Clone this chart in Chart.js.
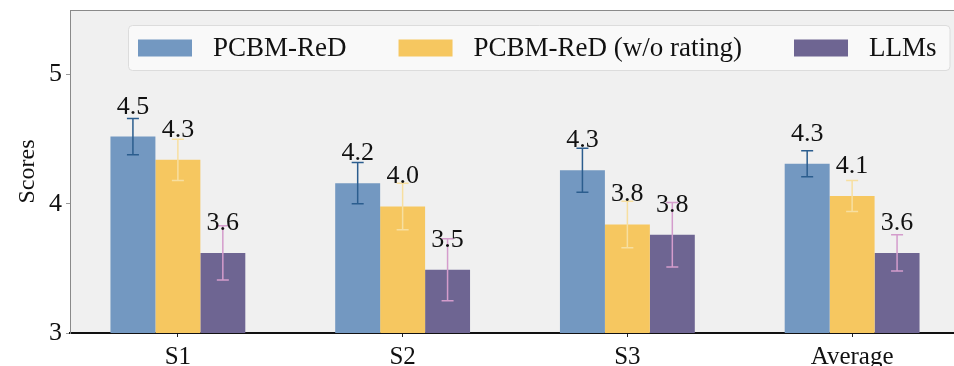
<!DOCTYPE html>
<html>
<head>
<meta charset="utf-8">
<script src="https://cdn.jsdelivr.net/npm/chart.js@4"></script>
<style>
  html, body { margin: 0; padding: 0; background: #fff; overflow: hidden; }
  #wrap { width: 962px; height: 366px; }
</style>
</head>
<body>
<div id="wrap"><canvas id="scoreChart" width="962" height="366"></canvas></div>
<script>
// Chart data
const categories = ['S1', 'S2', 'S3', 'Average'];
const seriesNames = ['PCBM-ReD', 'PCBM-ReD (w/o rating)', 'LLMs'];
const redValues = [4.52, 4.16, 4.26, 4.31];
const redErrors = [0.14, 0.16, 0.17, 0.10];
const noRatingValues = [4.34, 3.98, 3.84, 4.06];
const noRatingErrors = [0.16, 0.18, 0.18, 0.12];
const llmValues = [3.62, 3.49, 3.76, 3.62];
const llmErrors = [0.21, 0.24, 0.25, 0.14];
const yTicks = [3, 4, 5];

const barColors = ['#7398c1', '#f6c760', '#6e6592'];
const errColors = ['#2b5d8e', '#f7dfa0', '#d49ccc'];
const serif = "'Liberation Serif', 'Times New Roman', serif";

Chart.defaults.font.family = serif;
Chart.defaults.color = '#111';

const toPoints = vals => vals.map((v, i) => ({ x: i, y: v }));

// plot background + top spine
const frame = {
  id: 'frame',
  beforeDraw(chart) {
    const { ctx, chartArea: a } = chart;
    ctx.save();
    ctx.fillStyle = '#f0f0f0';
    ctx.fillRect(a.left, a.top, a.right - a.left, a.bottom - a.top);
    ctx.strokeStyle = '#8a8a8a';
    ctx.lineWidth = 1;
    ctx.beginPath();
    ctx.moveTo(a.left, a.top + 0.5);
    ctx.lineTo(a.right, a.top + 0.5);
    ctx.stroke();
    ctx.restore();
  }
};

// error bars and value labels
const barExtras = {
  id: 'barExtras',
  afterDatasetsDraw(chart) {
    const { ctx } = chart;
    const y = chart.scales.y;
    chart.data.datasets.forEach((ds, di) => {
      const meta = chart.getDatasetMeta(di);
      meta.data.forEach((bar, i) => {
        const v = ds.data[i].y, e = ds.errors[i];
        const top = y.getPixelForValue(v + e);
        const bot = y.getPixelForValue(v - e);
        ctx.save();
        ctx.strokeStyle = ds.errColor;
        ctx.lineWidth = 1.5;
        ctx.beginPath();
        ctx.moveTo(bar.x, top);
        ctx.lineTo(bar.x, bot);
        ctx.moveTo(bar.x - 6, top);
        ctx.lineTo(bar.x + 6, top);
        ctx.moveTo(bar.x - 6, bot);
        ctx.lineTo(bar.x + 6, bot);
        ctx.stroke();
        ctx.restore();
      });
    });
    chart.data.datasets.forEach((ds, di) => {
      const meta = chart.getDatasetMeta(di);
      meta.data.forEach((bar, i) => {
        const v = ds.data[i].y;
        ctx.save();
        ctx.font = '26px ' + serif;
        ctx.fillStyle = '#111';
        ctx.textAlign = 'center';
        ctx.textBaseline = 'alphabetic';
        ctx.fillText(v.toFixed(1), bar.x, y.getPixelForValue(v) - 23);
        ctx.restore();
      });
    });
  }
};

// legend box inside the plot
const insideLegend = {
  id: 'insideLegend',
  afterDraw(chart) {
    const { ctx } = chart;
    ctx.save();
    ctx.font = '27px ' + serif;
    const x0 = 128, y0 = 25, h = 45;
    const swW = 54, swH = 17, gapIn = 21, gapOut = 52, pad = 10;
    let w = pad;
    chart.data.datasets.forEach((ds, i) => {
      w += swW + gapIn + ctx.measureText(ds.label).width;
      if (i < chart.data.datasets.length - 1) w += gapOut;
    });
    w += pad + 3;
    ctx.fillStyle = 'rgba(250,250,250,0.9)';
    ctx.strokeStyle = '#dcdcdc';
    ctx.lineWidth = 1;
    ctx.beginPath();
    ctx.roundRect(x0 + 0.5, y0 + 0.5, w, h, 4);
    ctx.fill();
    ctx.stroke();
    let x = x0 + pad;
    const cy = y0 + h / 2;
    chart.data.datasets.forEach(ds => {
      ctx.fillStyle = ds.backgroundColor;
      ctx.fillRect(x, cy - swH / 2 + 0.5, swW, swH);
      x += swW + gapIn;
      ctx.fillStyle = '#111';
      ctx.textBaseline = 'middle';
      ctx.fillText(ds.label, x, cy + 1);
      x += ctx.measureText(ds.label).width + gapOut;
    });
    ctx.restore();
  }
};

const valueSets = [redValues, noRatingValues, llmValues];
const errorSets = [redErrors, noRatingErrors, llmErrors];

new Chart(document.getElementById('scoreChart').getContext('2d'), {
  type: 'bar',
  data: {
    datasets: seriesNames.map((name, i) => ({
      label: name,
      data: toPoints(valueSets[i]),
      errors: errorSets[i],
      errColor: errColors[i],
      backgroundColor: barColors[i],
      borderWidth: 0,
      categoryPercentage: 0.6,
      barPercentage: 1.0
    }))
  },
  options: {
    responsive: false,
    animation: false,
    layout: { padding: { top: 10, right: 2, left: 0, bottom: 0 } },
    plugins: {
      legend: { display: false },
      tooltip: { enabled: false }
    },
    scales: {
      x: {
        type: 'linear',
        offset: false,
        min: -0.48,
        max: 3.48,
        afterBuildTicks: s => { s.ticks = categories.map((_, i) => ({ value: i })); },
        afterFit: s => { s.height = 33; s.paddingLeft = 0; s.paddingRight = 0; },
        ticks: {
          callback: v => categories[v],
          font: { size: 25 },
          color: '#111',
          padding: 5,
          maxRotation: 0,
          autoSkip: false
        },
        grid: { offset: false, drawOnChartArea: false, tickLength: 4, color: '#222' },
        border: { color: '#111', width: 2 }
      },
      y: {
        min: 3,
        max: 5.5,
        afterBuildTicks: s => { s.ticks = yTicks.map(v => ({ value: v })); },
        afterFit: s => { s.width = 70; s.paddingTop = 0; s.paddingBottom = 0; },
        ticks: { font: { size: 26 }, color: '#111', padding: 4 },
        grid: { drawOnChartArea: false, tickLength: 4, color: '#999' },
        border: { color: '#8a8a8a', width: 1 },
        title: {
          display: true,
          text: 'Scores',
          font: { size: 24 },
          color: '#111',
          padding: { top: 13, bottom: 0 }
        }
      }
    }
  },
  plugins: [frame, barExtras, insideLegend]
});
</script>
</body>
</html>
